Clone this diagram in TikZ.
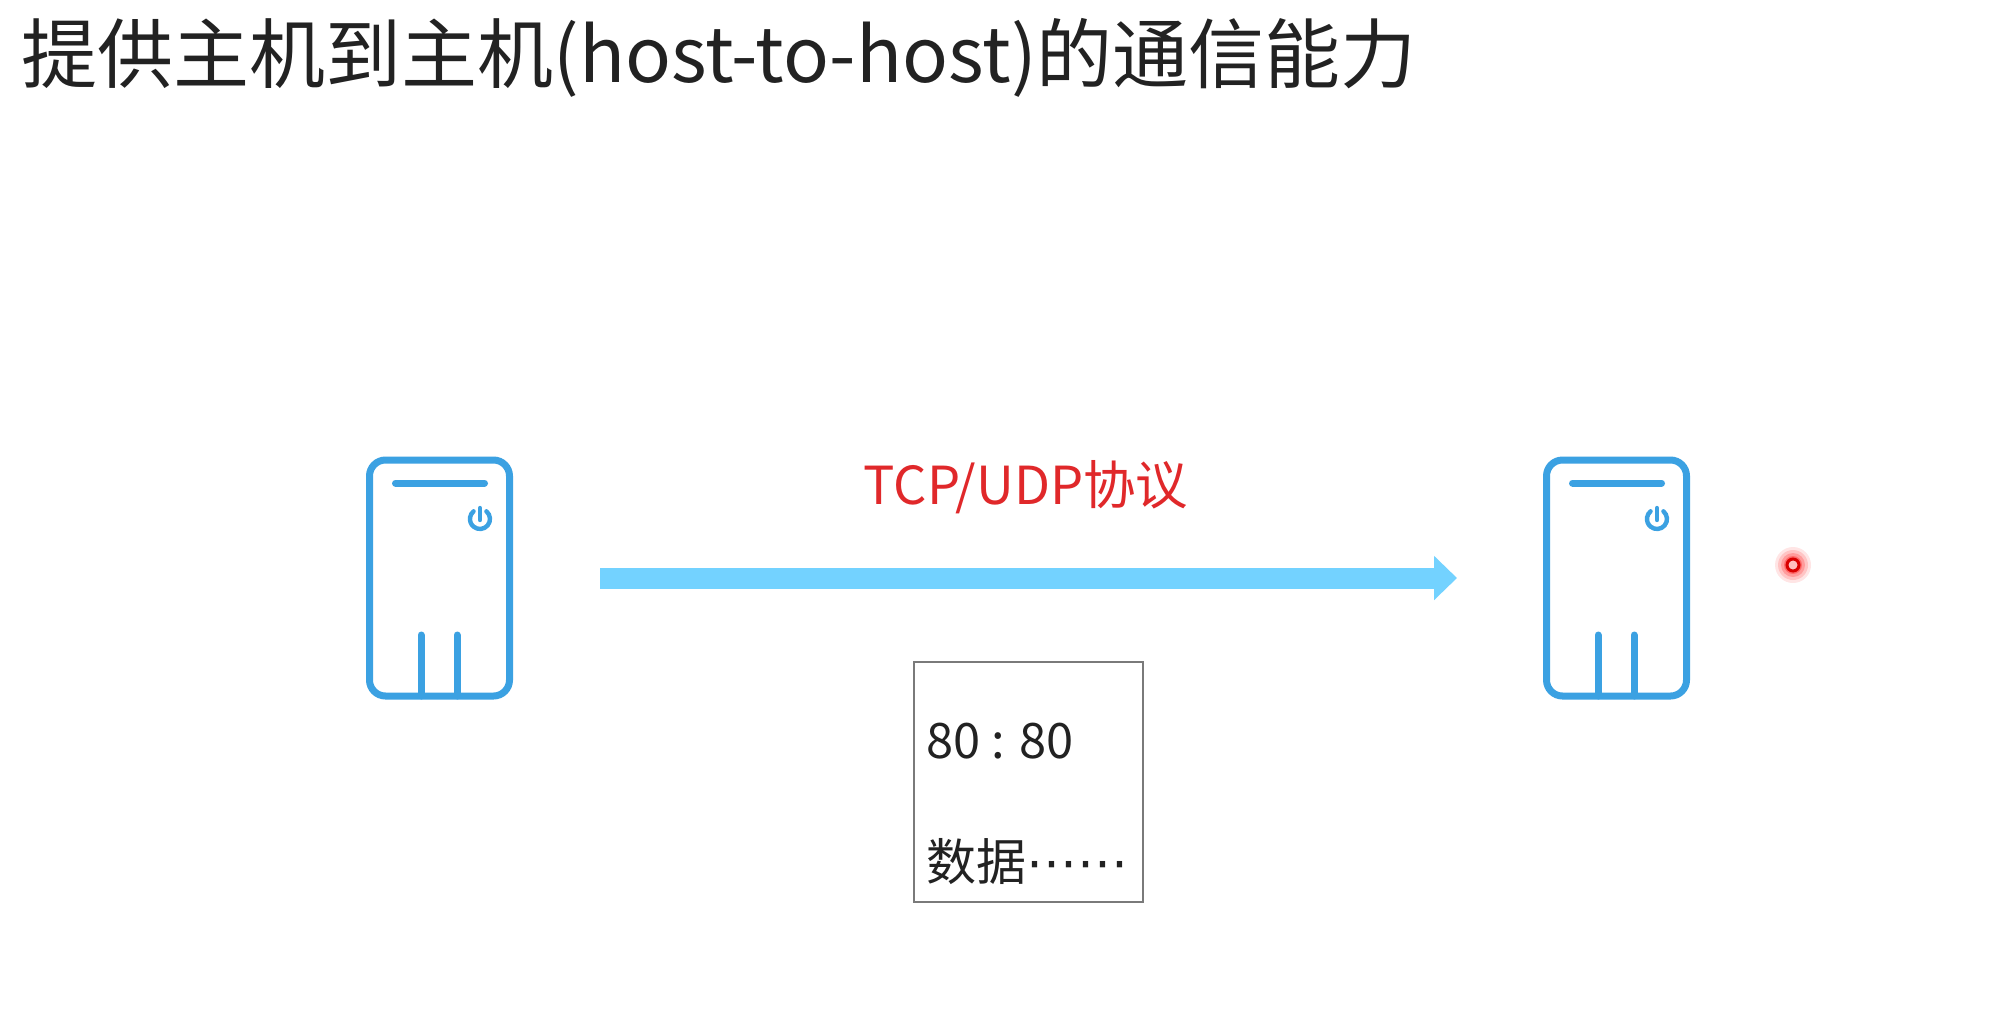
\documentclass[tikz,border=0pt]{standalone}
\usepackage{fontspec}
\usepackage{xcolor}
\setmainfont{Noto Sans CJK SC}
\newfontfamily\dotsfont{DejaVu Sans}
\usetikzlibrary{arrows.meta, positioning, calc}
\definecolor{hostblue}{HTML}{3BA1E2}
\definecolor{arrowblue}{HTML}{73D2FF}
\definecolor{redtext}{HTML}{E0282A}
\definecolor{boxgray}{HTML}{7A7A7A}
\definecolor{titletext}{HTML}{222222}

\begin{document}
\begin{tikzpicture}[
    x=0.5pt, y=-0.5pt,
    host/.style={
        rectangle, rounded corners=8pt,
        minimum width=70pt, minimum height=118pt,
        draw=hostblue, line width=3.5pt, inner sep=0pt
    },
    hostline/.style={draw=hostblue, line width=3.5pt},
    arrow/.style={-{Triangle[length=11.5pt, width=21.5pt]}, line width=10.5pt, color=arrowblue},
    title/.style={anchor=west, inner sep=0pt, font=\fontsize{38}{38}\selectfont, color=titletext},
    pkttext/.style={anchor=west, inner sep=0pt, font=\fontsize{25}{25}\selectfont, color=titletext}
]
\useasboundingbox[fill=white] (0,0) rectangle (2012,1030);

\node[title] (head) at (21,58) {提供主机到主机(host-to-host)的通信能力};

% the two hosts
\node[host] (hosta) at (439.5,578) {};
\node[host, right=515pt of hosta] (hostb) {};

\foreach \h in {hosta,hostb} {
    \begin{scope}[shift={(\h.center)}]
        \draw[hostline, line cap=round] (-44,-95) -- (45,-95);
        \draw[hostline, line cap=round] (-18.5,57) -- (-18.5,118);
        \draw[hostline, line cap=round] (17.5,57) -- (17.5,118);
        \draw[hostblue, line width=2.2pt, line cap=round] (46.9,-66.7) arc[start angle=-50, end angle=230, x radius=10, y radius=10];
        \draw[hostblue, line width=2.2pt, line cap=round] (40.5,-70) -- (40.5,-58);
    \end{scope}
}

\draw[arrow] ([xshift=43.5pt]hosta.east) -- ([xshift=-43pt]hostb.west);

\node[anchor=south, inner sep=0pt, font=\fontsize{26.2}{26.2}\selectfont, color=redtext] (proto) at (1026,514) {TCP/UDP协议};

% packet box
\node[draw=boxgray, line width=1pt, minimum width=114.5pt, minimum height=120pt, inner sep=0pt] (pkt) at (1028.5,782) {};
\node[pkttext, font=\fontsize{24.4}{24.4}\selectfont] (pktport) at (926,741) {80 : 80};
\node[pkttext] (pktdata) at (926,862) {数据{\dotsfont\fontsize{25.5}{25.5}\selectfont ⋯⋯}};

% laser pointer
\foreach \r/\o in {18/0.10,15/0.14,12/0.20,9/0.30} {
    \fill[red, opacity=\o] (1793,565) circle[radius=\r];
}
\node[circle, draw=red!85!black, line width=1.5pt, fill=red!25, minimum size=6pt, inner sep=0pt] (dot) at (1793,565) {};

\end{tikzpicture}
\end{document}
